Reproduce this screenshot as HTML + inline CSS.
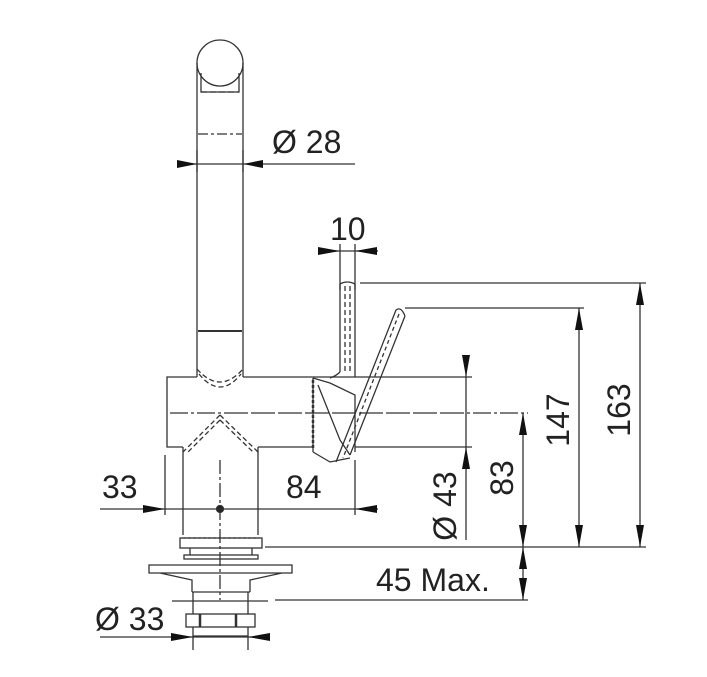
<!DOCTYPE html>
<html><head><style>
html,body{margin:0;padding:0;background:#fff;}
svg{display:block;}
text{font-family:"Liberation Sans",Arial,sans-serif;font-size:32px;fill:#222;}
</style></head><body>
<svg width="707" height="677" viewBox="0 0 707 677" xmlns="http://www.w3.org/2000/svg">
<g stroke="#333" stroke-width="1.3" fill="none">
<!-- spout -->
<circle cx="220" cy="63" r="23" fill="#fff"/>
<path d="M197 63 V377 M243 63 V377"/>
<path d="M201 73 V92 H239 V73"/>
<path d="M201 92 H239" stroke-dasharray="6 3"/>
<path d="M198 134 H242" stroke-dasharray="10 3 3 3"/>
<path d="M198 331 H242" stroke-width="2"/>
<!-- body -->
<path d="M197 377 H167 V447 H183 M258 447 H313 M243 377 H313"/>
<path d="M197 369 Q220 395 243 369" stroke-dasharray="5 3"/>
<path d="M199 374 Q220 400 241 374" stroke-dasharray="5 3"/>
<path d="M220 415 L183 452 M220 415 L258 452" stroke-dasharray="5 3"/>
<path d="M220 420 L188 452 M220 420 L253 452" stroke-dasharray="5 3"/>
<path d="M183 447 V535 M258 447 V535"/>
<path d="M170 413 H470 M230 413 H528" stroke-dasharray="18 3 3 3"/>
<path d="M220 460 V600" stroke-dasharray="14 3 3 3"/>
<circle cx="220" cy="509" r="3.5" fill="#222"/>
<!-- lever -->
<path d="M340 284 V372 M355 284 V377 M340 284 Q347 280 355 284"/>
<path d="M345 286 V372 M350 286 V372" stroke-dasharray="5 3"/>
<path d="M340 372 Q336 376 330 378"/>
<path d="M313 378 V452 M313 378 L330 383 L355 395 L355 452 M318 385 L340 440 L350 455 M313 452 L330 462 L350 458"/>
<path d="M313 380 V450" stroke-width="2.5" stroke-dasharray="3 2"/>
<path d="M396 310 L336 462 M405 316 L350 455 M396 310 Q401 306 405 316"/>
<path d="M399 314 L343 458" stroke-dasharray="4 3"/>
<!-- base parts -->
<rect x="180" y="538" width="82" height="10"/>
<path d="M183 538 H259" stroke-dasharray="3 2"/>
<rect x="184" y="555" width="74" height="4"/>
<path d="M190 548 V555 M252 548 V555"/>
<path d="M149 565 H292 V573 H149 Z M160 573 L192 580 V592 M282 573 L250 580 V592 M192 592 H250"/>
<path d="M172 601 H268"/>
<path d="M193 592 V614 M248 592 V614"/>
<rect x="186" y="614" width="69" height="13"/>
<path d="M200 614 V627 M236 614 V627" stroke-width="2.5"/>
<path d="M193 627 V636 H248 V627"/>
<!-- extension lines -->
<path d="M197 150 V172 M243 150 V172"/>
<path d="M340 244 V290 M355 244 V290"/>
<path d="M165 455 V515"/>
<path d="M355 460 V515"/>
<path d="M193 636 V650 M248 636 V650"/>
<path d="M360 283 H646 M405 308 H584 M313 377 H472 M355 447 H472 M265 547 H646 M275 600 H528"/>
<!-- dim lines -->
<path d="M177 164 H355"/>
<path d="M318 251 H378"/>
<path d="M100 509 H378"/>
<path d="M100 637 H270"/>
<path d="M640 283 V547 M579 308 V547 M523 413 V600 M466 355 V540"/>
</g>
<g fill="#111">
<path d="M197 164 L177 160 V168 Z M243 164 L263 160 V168 Z"/>
<path d="M340 251 L318 247 V255 Z M355 251 L377 247 V255 Z"/>
<path d="M165 509 L143 505 V513 Z M355 509 L377 505 V513 Z"/>
<path d="M193 637 L171 633 V641 Z M248 637 L270 633 V641 Z"/>
<path d="M640 283 L636 305 H644 Z M640 547 L636 525 H644 Z"/>
<path d="M579 308 L575 330 H583 Z M579 547 L575 525 H583 Z"/>
<path d="M523 413 L519 435 H527 Z M523 547 L519 525 H527 Z"/>
<path d="M523 547 L519 569 H527 Z M523 600 L519 578 H527 Z"/>
<path d="M466 377 L462 355 H470 Z M466 447 L462 469 H470 Z"/>
</g>
<text x="272" y="153">Ø 28</text>
<text x="330" y="240">10</text>
<text x="102" y="498">33</text>
<text x="286" y="498">84</text>
<text x="376" y="591">45 Max.</text>
<text x="95" y="630">Ø 33</text>
<text transform="translate(630,410) rotate(-90)" text-anchor="middle">163</text>
<text transform="translate(569,420) rotate(-90)" text-anchor="middle">147</text>
<text transform="translate(513,478) rotate(-90)" text-anchor="middle">83</text>
<text transform="translate(456,506) rotate(-90)" text-anchor="middle">Ø 43</text>
</svg>
</body></html>
